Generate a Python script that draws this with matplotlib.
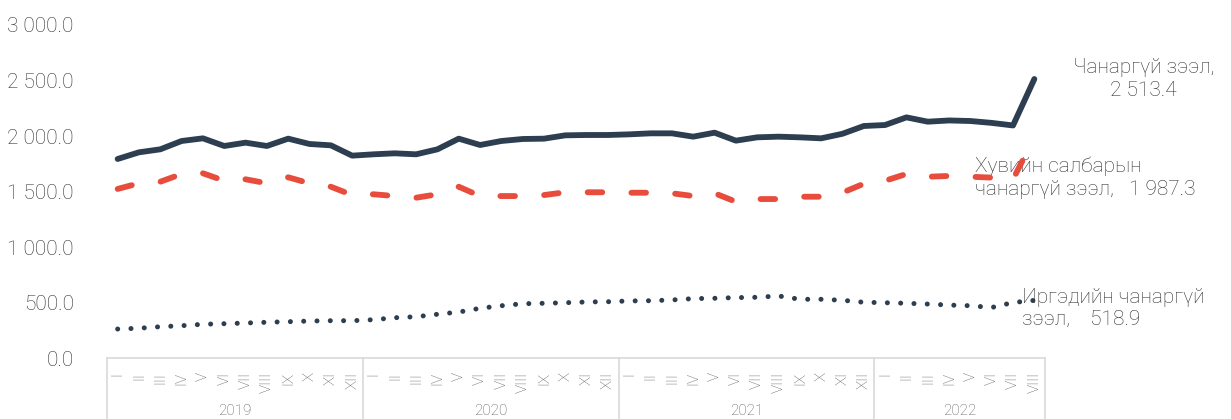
import numpy as np
import matplotlib
matplotlib.use("Agg")
import matplotlib.pyplot as plt
import matplotlib.transforms as mtransforms
from matplotlib.lines import Line2D

plt.rcParams['font.family'] = ['Roboto', 'DejaVu Sans']
plt.rcParams['font.weight'] = 'light'

# monthly data, 2019.I - 2022.VIII
years = ["2019", "2020", "2021", "2022"]
months_per_year = [12, 12, 12, 8]
roman = ["I", "II", "III", "IV", "V", "VI", "VII", "VIII", "IX", "X", "XI", "XII"]

total_npl = [1793, 1853, 1880, 1955, 1979, 1910, 1940, 1910, 1976, 1928, 1916, 1823,
             1835, 1844, 1835, 1880, 1976, 1919, 1955, 1973, 1976, 2006, 2009, 2009,
             2015, 2024, 2024, 1994, 2030, 1958, 1988, 1994, 1988, 1979, 2020, 2090,
             2099, 2168, 2129, 2140, 2135, 2118, 2095, 2513.4]
private_npl = [1523, 1574, 1588, 1658, 1664, 1597, 1610, 1574, 1628, 1574, 1543, 1468,
               1475, 1459, 1444, 1475, 1543, 1459, 1459, 1459, 1468, 1493, 1493, 1493,
               1489, 1489, 1484, 1459, 1484, 1408, 1432, 1432, 1453, 1453, 1490, 1570,
               1597, 1658, 1633, 1640, 1633, 1625, 1610, 1987.3]
household_npl = [261, 268, 282, 291, 304, 309, 315, 322, 327, 333, 336, 336,
                 345, 363, 372, 394, 414, 448, 471, 489, 493, 498, 505, 507,
                 514, 516, 523, 535, 538, 544, 547, 559, 529, 529, 520, 502,
                 498, 493, 486, 477, 471, 455, 500, 518.9]

labels = ["Чанаргүй зээл,\n2 513.4",
          "Хувийн салбарын\nчанаргүй зээл,   1 987.3",
          "Иргэдийн чанаргүй\nзээл,    518.9"]

navy = "#2C3E50"
red = "#E74C3C"
grey_txt = "#2F2F2F"
grey_small = "#595959"
grey_line = "#D9D9D9"

tick_labels = []
for n in months_per_year:
    tick_labels += roman[:n]
x = np.arange(len(tick_labels))

W, H = 1231, 419
fig = plt.figure(figsize=(W / 100, H / 100), dpi=100)
ax = fig.add_axes([107 / W, 1 - 358 / H, (1045 - 107) / W, (358 - 25) / H])

l1, = ax.plot(x, total_npl, color=navy, lw=4.2, solid_capstyle='round',
              solid_joinstyle='round', zorder=3)
l2, = ax.plot(x, private_npl, color=red, lw=4.2, dash_capstyle='round',
              dash_joinstyle='round', zorder=3)
l2.set_dashes((2.5, 5.0))
l3, = ax.plot(x, household_npl, color=navy, lw=3.6, dash_capstyle='round', zorder=3)
l3.set_dashes((0.01, 2.65))

ax.set_xlim(-0.5, len(x) - 0.5)
ax.set_ylim(0, 3000)
ax.set_yticks(np.arange(0, 3001, 500))
ax.set_yticklabels([f"{v:,.1f}".replace(",", " ") for v in np.arange(0, 3001, 500)])
ax.set_xticks(x)
ax.set_xticklabels(tick_labels, rotation=90, fontsize=11, color=grey_small)
ax.tick_params(axis='x', length=0, pad=10)
ax.tick_params(axis='y', length=0, pad=24, labelsize=15, labelcolor=grey_txt)

for s in ["top", "right", "left"]:
    ax.spines[s].set_visible(False)
ax.spines["bottom"].set_color(grey_line)
ax.spines["bottom"].set_linewidth(1.2)

# year groups under the month labels
trans = mtransforms.blended_transform_factory(ax.transData, ax.transAxes)
bottom = -(H - 358) / (358 - 25)
edges = np.concatenate([[0], np.cumsum(months_per_year)]) - 0.5
for e in edges:
    ax.add_line(Line2D([e, e], [0, bottom], transform=trans, color=grey_line,
                       lw=1.2, clip_on=False))
for yr, a, b in zip(years, edges[:-1], edges[1:]):
    ax.text((a + b) / 2, -0.16, yr, transform=trans, ha='center', va='center',
            fontsize=11, color=grey_small)

# end labels
ax.annotate(labels[0], (x[-1], total_npl[-1]), xytext=(109, 0),
            textcoords='offset pixels', ha='center', va='center', fontsize=15,
            color=grey_txt, linespacing=1.25, annotation_clip=False, zorder=1)
ax.annotate(labels[1], (x[-1], private_npl[-1]), xytext=(-59, -40),
            textcoords='offset pixels', ha='left', va='center', fontsize=15,
            color=grey_txt, linespacing=1.25, annotation_clip=False, zorder=1)
ax.annotate(labels[2], (x[-1], household_npl[-1]), xytext=(-12, -8),
            textcoords='offset pixels', ha='left', va='center', fontsize=15,
            color=grey_txt, linespacing=1.25, annotation_clip=False, zorder=1)

fig.savefig("out.png", dpi=100)
